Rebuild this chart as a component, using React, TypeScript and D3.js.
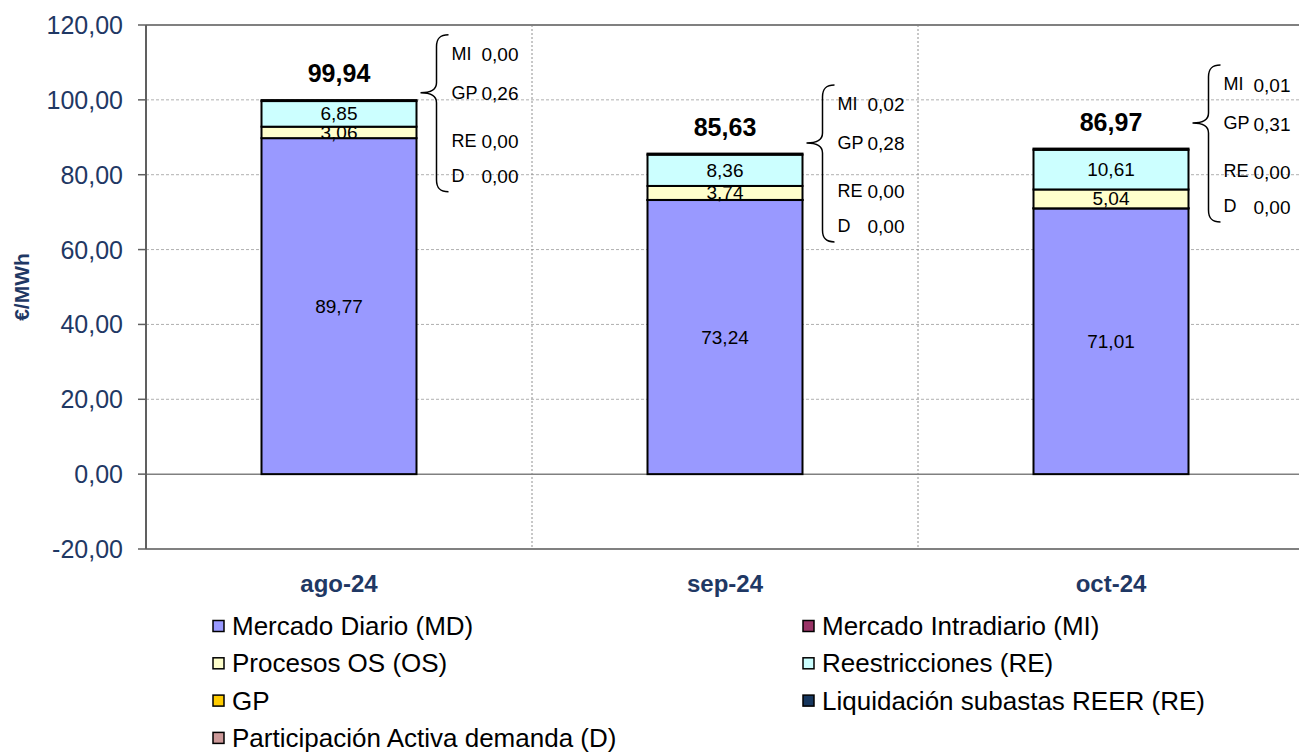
import React from 'react';
import * as d3 from 'd3';

// chart values (€/MWh)
const months = ['ago-24', 'sep-24', 'oct-24'];
const mdValues = [89.77, 73.24, 71.01];
const miValues = [0.0, 0.02, 0.01];
const osValues = [3.06, 3.74, 5.04];
const reValues = [6.85, 8.36, 10.61];
const gpValues = [0.26, 0.28, 0.31];
const reerValues = [0.0, 0.0, 0.0];
const demValues = [0.0, 0.0, 0.0];
const totals = [99.94, 85.63, 86.97];
const yTicks = [-20, 0, 20, 40, 60, 80, 100, 120];

const seriesNames = [
  'Mercado Diario (MD)',
  'Mercado Intradiario (MI)',
  'Procesos OS (OS)',
  'Reestricciones (RE)',
  'GP',
  'Liquidación subastas REER (RE)',
  'Participación Activa demanda (D)',
];
const seriesColors = ['#9999FF', '#993366', '#FFFFCC', '#CCFFFF', '#FFCC00', '#17375E', '#CC9999'];
const seriesValues = [mdValues, miValues, osValues, reValues, gpValues, reerValues, demValues];
const labelled = [true, false, true, true, false, false, false];

// side callouts: abbreviation + value
const calloutKeys = ['MI', 'GP', 'RE', 'D'];
const calloutValues = [
  [0.0, 0.26, 0.0, 0.0],
  [0.02, 0.28, 0.0, 0.0],
  [0.01, 0.31, 0.0, 0.0],
];
// top of each brace, in €/MWh
const calloutTop = [117.4, 104.0, 109.3];

const W = 1299;
const H = 753;
const margin = { top: 25, left: 146, bottom: 204 };
const plotRight = 1304;
const axisColor = '#1F3864';
const font = 'Arial, "Liberation Sans", sans-serif';

const fmt = (v: number) => v.toFixed(2).replace('.', ',');

const App: React.FC = () => {
  const y = d3.scaleLinear().domain([-20, 120]).range([H - margin.bottom, margin.top]);
  const x = d3.scaleBand<string>().domain(months).range([margin.left, plotRight]).paddingInner(0).paddingOuter(0);
  const barW = 155;

  const stacked = d3.stack<number>()
    .keys(seriesNames.map((_, i) => String(i)))
    .value((idx, key) => seriesValues[+key][idx])(months.map((_, i) => i));

  const braceH = 157;
  const tip = 58;
  const bracePath = `M28,0 C19,0 16,4 16,12 L16,${tip - 10} C16,${tip - 3} 10,${tip} 0,${tip} C10,${tip} 16,${tip + 3} 16,${tip + 10} L16,${braceH - 12} C16,${braceH - 4} 19,${braceH} 28,${braceH}`;
  const rowOffsets = [19, 58, 106, 141];

  const legendRows = [
    [0, 1],
    [2, 3],
    [4, 5],
    [6, -1],
  ];

  return (
    <div style={{ position: 'fixed', left: 0, top: 0 }}>
      <svg width={W} height={H} style={{ display: 'block', background: '#fff', fontFamily: font }}>
        {/* grid lines */}
        {yTicks.filter(t => t !== 0 && t !== 120 && t !== -20).map(t => (
          <line key={t} x1={margin.left} x2={plotRight} y1={y(t)} y2={y(t)} stroke="#b0b0b0" strokeWidth={1} strokeDasharray="3,2" />
        ))}
        {/* category separators */}
        {months.slice(1).map(m => (
          <line key={m} x1={x(m)} x2={x(m)} y1={margin.top} y2={y(-20)} stroke="#909090" strokeWidth={1} strokeDasharray="2,2" />
        ))}
        {/* plot border */}
        <line x1={margin.left} x2={plotRight} y1={y(120)} y2={y(120)} stroke="#808080" strokeWidth={2} />
        <line x1={margin.left} x2={plotRight} y1={y(-20)} y2={y(-20)} stroke="#808080" strokeWidth={2} />
        <line x1={margin.left} x2={plotRight} y1={y(0)} y2={y(0)} stroke="#808080" strokeWidth={1.5} />

        {/* bars */}
        {stacked.map((layer, si) => (
          <g key={si}>
            {layer.map((d, i) => {
              const v = seriesValues[si][i];
              if (v <= 0) return null;
              const bx = (x(months[i]) as number) + x.bandwidth() / 2 - barW / 2;
              return (
                <rect key={i} x={bx} y={y(d[1])} width={barW} height={Math.max(0, y(d[0]) - y(d[1]))}
                  fill={seriesColors[si]} stroke="#000" strokeWidth={2} />
              );
            })}
          </g>
        ))}
        {/* segment labels */}
        {stacked.map((layer, si) => labelled[si] ? (
          <g key={'l' + si}>
            {layer.map((d, i) => (
              <text key={i} x={(x(months[i]) as number) + x.bandwidth() / 2} y={y((d[0] + d[1]) / 2)}
                textAnchor="middle" dominantBaseline="central" fontSize={19} fill="#000">
                {fmt(seriesValues[si][i])}
              </text>
            ))}
          </g>
        ) : null)}
        {/* totals */}
        {months.map((m, i) => (
          <text key={m} x={(x(m) as number) + x.bandwidth() / 2} y={y(totals[i]) - 27}
            textAnchor="middle" dominantBaseline="central" fontSize={25} fontWeight="bold" fill="#000">
            {fmt(totals[i])}
          </text>
        ))}
        {/* callouts */}
        {months.map((m, i) => {
          const bx = (x(m) as number) + x.bandwidth() / 2 + barW / 2 + 4;
          const by = y(calloutTop[i]);
          return (
            <g key={'c' + m} transform={`translate(${bx},${by})`}>
              <path d={bracePath} fill="none" stroke="#000" strokeWidth={1.5} />
              {calloutKeys.map((k, j) => (
                <g key={k}>
                  <text x={31} y={rowOffsets[j]} dominantBaseline="central" fontSize={18} fill="#000">{k}</text>
                  <text x={61} y={rowOffsets[j] + 1} dominantBaseline="central" fontSize={19} fill="#000">{fmt(calloutValues[i][j])}</text>
                </g>
              ))}
            </g>
          );
        })}

        {/* y axis */}
        <line x1={margin.left} x2={margin.left} y1={margin.top} y2={y(-20)} stroke="#606060" strokeWidth={2} />
        {yTicks.map(t => (
          <g key={'t' + t}>
            <line x1={margin.left - 8} x2={margin.left} y1={y(t)} y2={y(t)} stroke="#606060" strokeWidth={1.5} />
            <text x={margin.left - 23} y={y(t)} textAnchor="end" dominantBaseline="central" fontSize={25} fill={axisColor}>
              {fmt(t)}
            </text>
          </g>
        ))}
        <text transform={`translate(21,${(y(-20) + y(120)) / 2}) rotate(-90)`} textAnchor="middle" dominantBaseline="central"
          fontSize={21} fontWeight="bold" fill={axisColor}>€/MWh</text>

        {/* x labels */}
        {months.map(m => (
          <text key={'x' + m} x={(x(m) as number) + x.bandwidth() / 2} y={583} textAnchor="middle" dominantBaseline="central"
            fontSize={24} fontWeight="bold" fill={axisColor}>{m}</text>
        ))}

        {/* legend */}
        {legendRows.map((row, r) => row.map((si, c) => si < 0 ? null : (
          <g key={'lg' + si} transform={`translate(${c === 0 ? 213 : 803},${626 + r * 37.3})`}>
            <rect x={0} y={-5.5} width={11} height={11} fill={seriesColors[si]} stroke="#000" strokeWidth={1.5} />
            <text x={19} y={0} dominantBaseline="central" fontSize={26} fill="#000">{seriesNames[si]}</text>
          </g>
        )))}
      </svg>
    </div>
  );
};

export default App;
